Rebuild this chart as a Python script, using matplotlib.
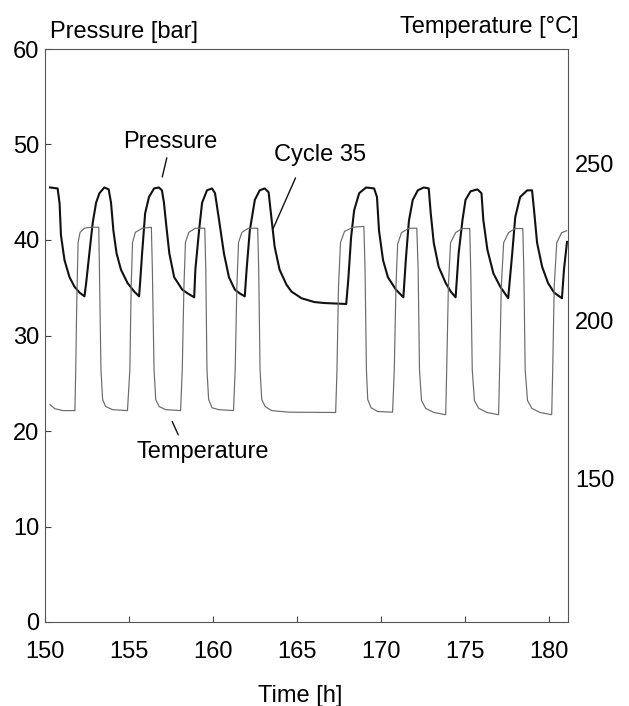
import matplotlib
matplotlib.use('Agg')
import matplotlib.pyplot as plt

plt.rcParams['font.family'] = ['Liberation Sans', 'DejaVu Sans']

# ---------------- data ----------------
time_p = [150.30, 150.75, 150.87, 150.95, 151.16, 151.46, 151.76, 152.05, 152.35,
          152.45, 152.64, 152.84, 153.04, 153.24, 153.53, 153.79, 153.93, 154.07, 154.26, 154.52, 154.91, 155.31, 155.60,
          155.66, 155.78, 155.96, 156.19, 156.49, 156.78, 156.96, 157.08, 157.22, 157.40, 157.69, 158.17, 158.50, 158.88,
          158.95, 159.17, 159.35, 159.64, 159.94, 160.12, 160.36, 160.65, 160.95, 161.30, 161.60, 161.89,
          162.00, 162.19, 162.49, 162.78, 163.08, 163.31, 163.49, 163.67, 163.96, 164.38, 164.67, 165.27, 166.04, 166.63, 167.93,
          168.05, 168.22, 168.40, 168.70, 169.11, 169.59, 169.76, 169.88, 170.12, 170.41, 170.89, 171.33,
          171.48, 171.66, 171.89, 172.19, 172.54, 172.84, 172.96, 173.14, 173.43, 173.85, 174.15, 174.44,
          174.62, 174.85, 175.03, 175.33, 175.74, 175.98, 176.09, 176.33, 176.69, 177.10, 177.57,
          177.81, 177.99, 178.28, 178.70, 178.99, 179.11, 179.29, 179.59, 179.94, 180.30, 180.77,
          180.89, 181.07]
pressure_bar = [45.5, 45.4, 43.8, 40.5, 37.9, 36.1, 35.1, 34.5, 34.1,
                35.5, 38.6, 41.8, 43.9, 44.9, 45.5, 45.3, 43.9, 41.0, 38.6, 36.9, 35.5, 34.6, 34.1,
                35.5, 38.6, 42.8, 44.5, 45.4, 45.5, 45.2, 43.9, 41.5, 38.6, 36.1, 34.8, 34.4, 34.0,
                36.9, 41.0, 43.9, 45.2, 45.4, 44.9, 42.1, 38.6, 36.1, 34.8, 34.4, 34.1,
                36.9, 41.0, 44.2, 45.2, 45.4, 45.0, 42.1, 39.3, 36.9, 35.3, 34.6, 33.9, 33.5, 33.4, 33.3,
                35.8, 40.3, 43.1, 44.9, 45.5, 45.4, 44.5, 41.0, 37.9, 36.1, 34.8, 34.0,
                38.0, 42.0, 44.2, 45.2, 45.5, 45.4, 42.8, 39.7, 37.2, 35.5, 34.6, 34.0,
                38.6, 42.1, 44.2, 45.1, 45.3, 44.9, 42.1, 39.0, 36.5, 35.1, 33.9,
                38.6, 42.4, 44.5, 45.2, 45.2, 43.1, 39.7, 37.2, 35.5, 34.5, 33.9,
                36.9, 39.8]

time_t = [150.30, 150.59, 151.07, 151.78,
          151.83, 151.89, 151.97, 152.09, 152.35, 152.72, 153.20,
          153.24, 153.33, 153.43, 153.61, 154.02, 154.91,
          155.05, 155.13, 155.21, 155.38, 155.80, 156.33,
          156.39, 156.49, 156.59, 156.79, 157.18, 158.07,
          158.17, 158.27, 158.36, 158.56, 158.95, 159.51,
          159.57, 159.64, 159.74, 159.94, 160.34, 161.22,
          161.32, 161.42, 161.52, 161.72, 162.11, 162.66,
          162.72, 162.80, 162.90, 163.10, 163.49, 164.50, 167.30,
          167.38, 167.47, 167.59, 167.83, 168.33, 168.98,
          169.05, 169.13, 169.21, 169.41, 169.80, 170.69,
          170.79, 170.89, 170.99, 171.22, 171.67, 172.13,
          172.21, 172.29, 172.41, 172.66, 173.15, 173.85,
          173.91, 174.01, 174.14, 174.44, 174.83, 175.28,
          175.34, 175.43, 175.56, 175.82, 176.31, 177.00,
          177.06, 177.16, 177.30, 177.59, 177.99, 178.44,
          178.50, 178.58, 178.72, 178.98, 179.47, 180.16,
          180.22, 180.31, 180.46, 180.75, 181.05]
temperature_c = [173.5, 172.2, 171.6, 171.6,
                 184.6, 205.9, 224.9, 228.1, 229.4, 229.7, 229.7,
                 216.4, 184.6, 175.1, 172.9, 171.9, 171.6,
                 184.6, 211.0, 224.9, 228.1, 229.4, 229.7,
                 216.4, 184.6, 175.1, 172.9, 171.9, 171.6,
                 184.6, 211.0, 224.9, 228.1, 229.4, 229.4,
                 216.4, 184.6, 175.1, 172.5, 171.9, 171.6,
                 184.6, 211.0, 224.9, 228.1, 229.4, 229.4,
                 216.4, 184.6, 175.1, 172.9, 171.6, 171.1, 171.0,
                 184.6, 211.0, 224.9, 228.4, 229.7, 230.0,
                 216.4, 184.6, 175.1, 172.5, 171.3, 171.1,
                 184.6, 211.0, 224.4, 228.0, 229.4, 229.4,
                 216.4, 184.6, 174.8, 172.3, 171.0, 170.3,
                 184.6, 211.0, 224.8, 228.0, 229.3, 229.3,
                 216.4, 184.6, 174.8, 172.3, 171.0, 170.3,
                 184.6, 211.0, 224.8, 228.0, 229.3, 229.3,
                 216.4, 184.6, 174.8, 172.3, 171.0, 170.3,
                 184.6, 211.0, 224.8, 228.0, 228.6]

x_ticks = [150, 155, 160, 165, 170, 175, 180]
p_ticks = [0, 10, 20, 30, 40, 50, 60]
t_ticks = [150, 200, 250]

# ---------------- figure ----------------
FS = 17
W, H = 629, 706
fig = plt.figure(figsize=(W / 100, H / 100), dpi=100)
ax = fig.add_axes([45 / W, 84 / H, 523 / W, 573 / H])

ax.plot(time_p, pressure_bar, color='#111111', lw=1.5, zorder=3,
        solid_joinstyle='round')
ax.set_xlim(150, 181.13)
ax.set_ylim(0, 60)
ax.set_xticks(x_ticks)
ax.set_yticks(p_ticks)
ax.tick_params(axis='both', direction='in', length=4, width=0.8,
               color='#444444', labelsize=FS)
ax.tick_params(axis='x', pad=14)
ax.tick_params(axis='y', pad=4)
for s in ax.spines.values():
    s.set_color('#555555')
    s.set_linewidth(0.8)

ax2 = ax.twinx()
ax2.plot(time_t, temperature_c, color='#6a6a6a', lw=0.85, zorder=2,
         solid_joinstyle='round')
ax2.set_ylim(104.6, 286.2)
ax2.set_yticks(t_ticks)
ax2.tick_params(axis='y', length=0, pad=5, labelsize=FS)
for s in ax2.spines.values():
    s.set_visible(False)

# annotations
ax.text(157.48, 49.6, 'Pressure', ha='center', va='baseline', fontsize=FS)
ax.annotate('', xy=(156.98, 46.6), xytext=(157.25, 48.6),
            arrowprops=dict(arrowstyle='-', lw=1.0, color='#111111', shrinkA=0, shrinkB=0))
ax.text(166.36, 48.3, 'Cycle 35', ha='center', va='baseline', fontsize=FS)
ax.annotate('', xy=(163.58, 41.2), xytext=(164.91, 46.5),
            arrowprops=dict(arrowstyle='-', lw=1.0, color='#111111', shrinkA=0, shrinkB=0))
ax.text(159.41, 17.2, 'Temperature', ha='center', va='baseline', fontsize=FS)
ax.annotate('', xy=(157.93, 19.6), xytext=(157.57, 21.0),
            arrowprops=dict(arrowstyle='-', lw=1.0, color='#111111', shrinkA=0, shrinkB=0))

# axis titles
fig.text(50 / W, 1 - 38 / H, 'Pressure [bar]', ha='left', va='baseline', fontsize=FS)
fig.text(578 / W, 1 - 33 / H, 'Temperature [°C]', ha='right', va='baseline', fontsize=FS)
fig.text(300 / W, 1 - 702 / H, 'Time [h]', ha='center', va='baseline', fontsize=FS)

fig.savefig('out.png', dpi=100)
